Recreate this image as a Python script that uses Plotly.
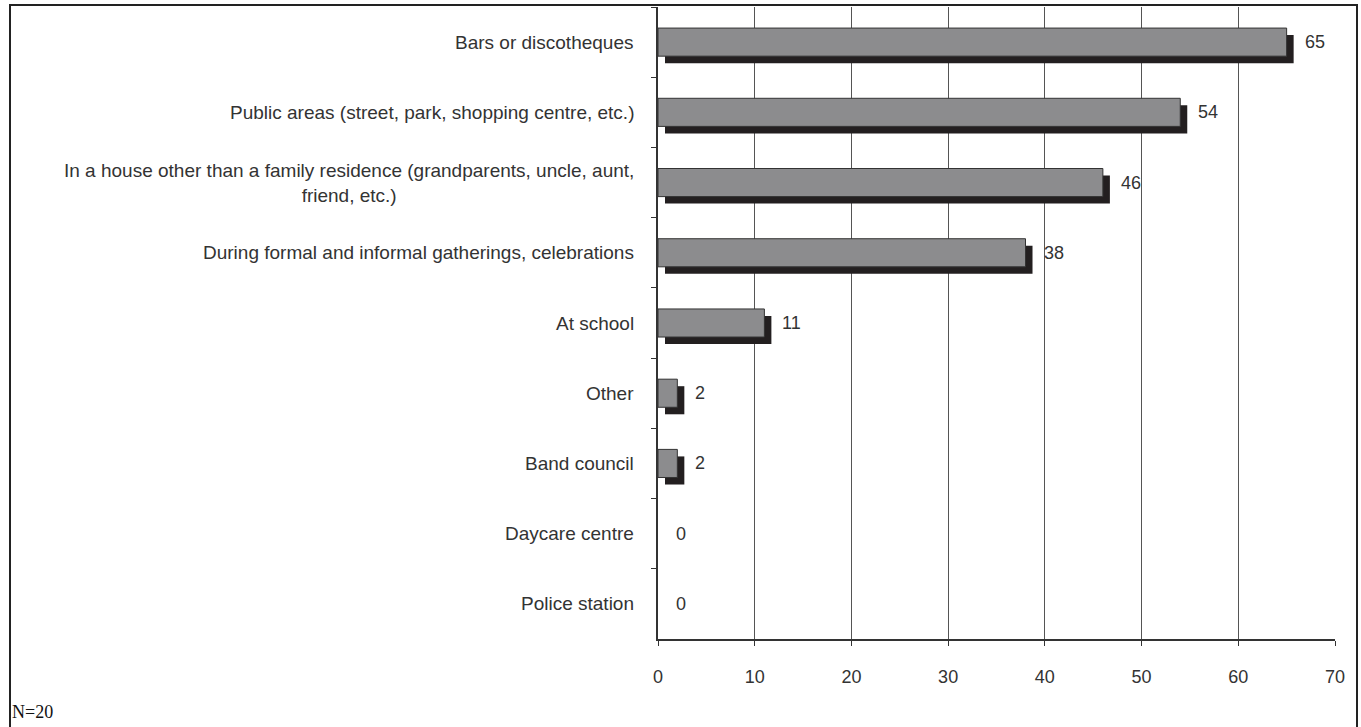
import plotly.graph_objects as go

# Places where incidents occurred (top to bottom), with counts
categories = [
    "Bars or discotheques",
    "Public areas (street, park, shopping centre, etc.)",
    "In a house other than a family residence (grandparents, uncle, aunt,<br>friend, etc.)",
    "During formal and informal gatherings, celebrations",
    "At school",
    "Other",
    "Band council",
    "Daycare centre",
    "Police station",
]
values = [65, 54, 46, 38, 11, 2, 2, 0, 0]
x_ticks = [0, 10, 20, 30, 40, 50, 60, 70]
note = "N=20"

W, H = 1361, 727
L, R, T, B = 658, 26, 7, 88
pw, ph = W - L - R, H - T - B
xmax = 70

def px_to_paper_x(px):
    return (px - L) / pw

def px_to_paper_y(py):
    return (H - B - py) / ph

label_font = dict(family="Liberation Sans, Arial, sans-serif", size=19, color="#333333")
num_font = dict(family="Liberation Sans Narrow, Arial Narrow, Liberation Sans, sans-serif", size=18, color="#333333")

shadow_dx = 7 * xmax / pw  # horizontal drop-shadow offset in data units

fig = go.Figure()
# drop shadow behind each bar
fig.add_trace(go.Bar(
    y=categories, x=values, base=shadow_dx, orientation="h",
    width=0.4, offset=-0.1,
    marker=dict(color="#231f20", line=dict(width=0)),
    hoverinfo="skip", showlegend=False,
))
# main bars (no outline on empty bars)
fig.add_trace(go.Bar(
    y=categories, x=values, orientation="h",
    width=0.4, offset=-0.2,
    marker=dict(color="#8c8c8e",
                line=dict(color="#333333", width=[1 if v > 0 else 0 for v in values])),
    showlegend=False,
))

annotations = []
for c, v in zip(categories, values):
    annotations.append(dict(
        x=v, y=c, xref="x", yref="y", text=str(v), showarrow=False,
        xanchor="left", yanchor="middle", xshift=16, font=num_font,
    ))
    annotations.append(dict(
        x=0, y=c, xref="paper", yref="y", text=c, showarrow=False,
        xanchor="right", yanchor="middle", align="center", xshift=-22,
        font=label_font,
    ))
annotations.append(dict(
    x=px_to_paper_x(10), y=px_to_paper_y(712), xref="paper", yref="paper",
    text=note, showarrow=False, xanchor="left", yanchor="middle",
    font=dict(family="Liberation Serif, Times New Roman, serif", size=18, color="#111111"),
))

fig.update_layout(
    width=W, height=H,
    margin=dict(l=L, r=R, t=T, b=B, pad=0),
    paper_bgcolor="white", plot_bgcolor="white",
    barmode="overlay",
    annotations=annotations,
    shapes=[dict(
        type="rect", xref="paper", yref="paper",
        x0=px_to_paper_x(10), x1=px_to_paper_x(1357),
        y0=px_to_paper_y(800), y1=px_to_paper_y(5),
        line=dict(color="#222222", width=2), layer="above",
    )],
    xaxis=dict(
        range=[0, xmax], tickvals=x_ticks, ticktext=[str(t) for t in x_ticks],
        showgrid=True, gridcolor="#555555", gridwidth=1, zeroline=False,
        showline=True, linecolor="#333333", linewidth=1.5,
        ticks="outside", ticklen=5, tickcolor="#333333",
        tickfont=num_font, ticklabelstandoff=16,
    ),
    yaxis=dict(
        type="category", categoryorder="array", categoryarray=categories,
        range=[len(categories) - 0.5, -0.5], autorange=False,
        showgrid=False, zeroline=False,
        showline=True, linecolor="#333333", linewidth=1.5,
        ticks="outside", ticklen=5, tickcolor="#333333", tickson="boundaries",
        showticklabels=False,
    ),
)

fig.write_html("out.html")
